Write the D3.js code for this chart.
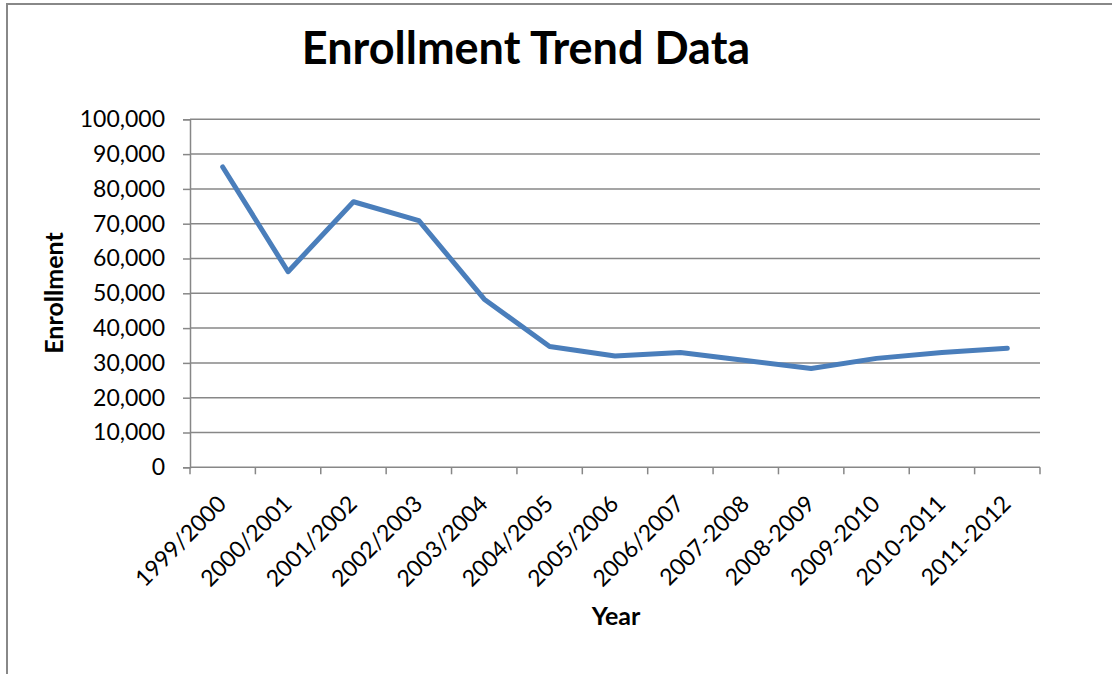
<!DOCTYPE html>
<html>
<head>
<meta charset="utf-8">
<script src="https://cdn.jsdelivr.net/npm/d3@7"></script>
<style>
  html, body { margin: 0; padding: 0; background: #fff; }
  svg { display: block; }
</style>
</head>
<body>
<div id="chart"></div>
<script>
// chart values
const years = ["1999/2000", "2000/2001", "2001/2002", "2002/2003", "2003/2004", "2004/2005",
  "2005/2006", "2006/2007", "2007-2008", "2008-2009", "2009-2010", "2010-2011", "2011-2012"];
const enrollment = [86300, 56200, 76300, 70900, 48300, 34700, 32000, 33000, 30700, 28400, 31300, 33000, 34200];
const yTicks = [0, 10000, 20000, 30000, 40000, 50000, 60000, 70000, 80000, 90000, 100000];

const width = 1112;
const height = 674;
const margin = { top: 119.3, right: 72, bottom: 206.7, left: 190 };
const font = "Lato, 'Open Sans', sans-serif";
const gridColor = '#878787';

const svg = d3.select('#chart')
    .append('svg')
    .attr('width', width)
    .attr('height', height);

// outer chart frame (only top and left edges are in view)
svg.append('path')
    .attr('d', 'M7,674 V4 H1112')
    .attr('fill', 'none')
    .attr('stroke', '#888888')
    .attr('stroke-width', 2);

const x = d3.scaleBand()
    .domain(years)
    .range([margin.left, width - margin.right]);

const y = d3.scaleLinear()
    .domain([0, 100000])
    .range([height - margin.bottom, margin.top]);

// horizontal gridlines
svg.append('g')
    .selectAll('line')
    .data(yTicks.filter(d => d > 0))
    .enter()
    .append('line')
    .attr('x1', margin.left)
    .attr('x2', width - margin.right)
    .attr('y1', d => y(d))
    .attr('y2', d => y(d))
    .attr('stroke', gridColor)
    .attr('stroke-width', 1.5);

// y axis
const yAxis = svg.append('g')
    .attr('transform', 'translate(' + margin.left + ',0)')
    .call(d3.axisLeft(y).tickValues(yTicks).tickSize(7).tickPadding(18)
        .tickFormat(d3.format(',')));
yAxis.selectAll('text')
    .attr('font-family', font)
    .attr('font-size', '23px')
    .attr('fill', '#000');
yAxis.select('.domain')
    .attr('stroke', gridColor)
    .attr('stroke-width', 1.5);
yAxis.selectAll('.tick line')
    .attr('stroke', gridColor)
    .attr('stroke-width', 1.5);

// x axis, ticks at category boundaries
const bounds = years.map(d => x(d)).concat([width - margin.right]);
const xAxisG = svg.append('g')
    .attr('transform', 'translate(0,' + y(0) + ')');
xAxisG.append('line')
    .attr('x1', margin.left)
    .attr('x2', width - margin.right)
    .attr('stroke', gridColor)
    .attr('stroke-width', 1.5);
xAxisG.selectAll('line.tick')
    .data(bounds)
    .enter()
    .append('line')
    .attr('class', 'tick')
    .attr('x1', d => d)
    .attr('x2', d => d)
    .attr('y1', 0)
    .attr('y2', 7)
    .attr('stroke', gridColor)
    .attr('stroke-width', 1.5);
xAxisG.selectAll('text')
    .data(years)
    .enter()
    .append('text')
    .attr('transform', d => 'translate(' + (x(d) + x.bandwidth() / 2 + 5) + ',38) rotate(-45)')
    .attr('text-anchor', 'end')
    .attr('font-family', font)
    .attr('font-size', '23px')
    .attr('fill', '#000')
    .text(d => d);

// the series line
const line = d3.line()
    .x((d, i) => x(years[i]) + x.bandwidth() / 2)
    .y(d => y(d));

svg.append('path')
    .datum(enrollment)
    .attr('d', line)
    .attr('fill', 'none')
    .attr('stroke', '#4A7EBB')
    .attr('stroke-width', 5)
    .attr('stroke-linejoin', 'round')
    .attr('stroke-linecap', 'round');

// titles
svg.append('text')
    .attr('x', 526)
    .attr('y', 64)
    .attr('text-anchor', 'middle')
    .attr('font-family', font)
    .attr('font-weight', 'bold')
    .attr('font-size', '45px')
    .attr('fill', '#000')
    .text('Enrollment Trend Data');

svg.append('text')
    .attr('transform', 'translate(63,293) rotate(-90)')
    .attr('text-anchor', 'middle')
    .attr('font-family', font)
    .attr('font-weight', 'bold')
    .attr('font-size', '25px')
    .attr('fill', '#000')
    .text('Enrollment');

svg.append('text')
    .attr('x', 616)
    .attr('y', 625)
    .attr('text-anchor', 'middle')
    .attr('font-family', font)
    .attr('font-weight', 'bold')
    .attr('font-size', '25px')
    .attr('fill', '#000')
    .text('Year');
</script>
</body>
</html>
